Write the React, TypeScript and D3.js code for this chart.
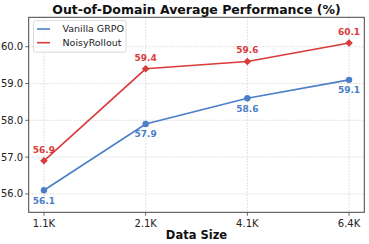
import React from "react";
import * as d3 from "d3";

const categories = ["1.1K", "2.1K", "4.1K", "6.4K"];
const vanilla = [56.1, 57.9, 58.6, 59.1];
const noisy = [56.9, 59.4, 59.6, 60.1];
const yTicks = [56.0, 57.0, 58.0, 59.0, 60.0];

const W = 369, H = 244;
const M = { left: 28.7, right: 364.3, top: 17.3, bottom: 212.3 };
const BLUE = "#4a7ec8";
const RED = "#d93a3a";
const FONT = "DejaVu Sans, sans-serif";

export default function App() {
  const x = d3.scaleLinear().domain([-0.15, 3.15]).range([M.left, M.right]);
  const y = d3.scaleLinear().domain([55.5, 60.8]).range([M.bottom, M.top]);
  const line = d3.line<number>().x((_, i) => x(i)).y((d) => y(d));
  const diamond = (cx: number, cy: number, r: number) =>
    `M${cx},${cy - r}L${cx + r},${cy}L${cx},${cy + r}L${cx - r},${cy}Z`;

  return (
    <svg width={W} height={H} style={{ position: "absolute", left: 0, top: 0, background: "#fff" }} fontFamily={FONT}>
      <rect width={W} height={H} fill="#fff" />
      {/* grid */}
      {yTicks.map((t) => (
        <line key={"gy" + t} x1={M.left} x2={M.right} y1={y(t)} y2={y(t)} stroke="#cfcfcf" strokeWidth={0.8} strokeDasharray="1.5,1.5" />
      ))}
      {categories.map((c, i) => (
        <line key={"gx" + c} x1={x(i)} x2={x(i)} y1={M.top} y2={M.bottom} stroke="#cfcfcf" strokeWidth={0.8} strokeDasharray="1.5,1.5" />
      ))}
      {/* lines */}
      <path d={line(vanilla) || ""} fill="none" stroke={BLUE} strokeWidth={1.6} />
      <path d={line(noisy) || ""} fill="none" stroke={RED} strokeWidth={1.6} />
      {vanilla.map((v, i) => (
        <circle key={"vc" + i} cx={x(i)} cy={y(v)} r={3.2} fill={BLUE} />
      ))}
      {noisy.map((v, i) => (
        <path key={"nd" + i} d={diamond(x(i), y(v), 3.8)} fill={RED} />
      ))}
      {vanilla.map((v, i) => (
        <text key={"vl" + i} x={x(i)} y={y(v) + 13.5} textAnchor="middle" fontSize={9} fontWeight="bold" fill={BLUE}>
          {v.toFixed(1)}
        </text>
      ))}
      {noisy.map((v, i) => (
        <text key={"nl" + i} x={x(i)} y={y(v) - 8} textAnchor="middle" fontSize={9} fontWeight="bold" fill={RED}>
          {v.toFixed(1)}
        </text>
      ))}
      {/* frame */}
      <rect x={M.left} y={M.top} width={M.right - M.left} height={M.bottom - M.top} fill="none" stroke="#444" strokeWidth={1} />
      {/* y ticks */}
      {yTicks.map((t) => (
        <g key={"yt" + t}>
          <line x1={M.left - 3.5} x2={M.left} y1={y(t)} y2={y(t)} stroke="#444" strokeWidth={0.8} />
          <text x={M.left - 5.5} y={y(t)} dy="0.35em" textAnchor="end" fontSize={10} fill="#222">
            {t.toFixed(1)}
          </text>
        </g>
      ))}
      {categories.map((c, i) => (
        <g key={"xt" + c}>
          <line x1={x(i)} x2={x(i)} y1={M.bottom} y2={M.bottom + 3.5} stroke="#444" strokeWidth={0.8} />
          <text x={x(i)} y={M.bottom + 15} textAnchor="middle" fontSize={10} fill="#222">
            {c}
          </text>
        </g>
      ))}
      <text x={(M.left + M.right) / 2} y={238.5} textAnchor="middle" fontSize={11.5} fontWeight="bold" fill="#111">
        Data Size
      </text>
      <text x={(M.left + M.right) / 2} y={14} textAnchor="middle" fontSize={12.5} fontWeight="bold" fill="#111">
        Out-of-Domain Average Performance (%)
      </text>
      {/* legend */}
      <rect x={33.5} y={20.7} width={92.5} height={31.5} rx={2} fill="#fff" fillOpacity={0.85} stroke="#d0d0d0" strokeWidth={0.8} />
      <line x1={37} x2={50} y1={29} y2={29} stroke={BLUE} strokeWidth={1.6} />
      <line x1={37} x2={50} y1={42.7} y2={42.7} stroke={RED} strokeWidth={1.6} />
      <text x={62.5} y={29} dy="0.35em" fontSize={9.5} fill="#222">Vanilla GRPO</text>
      <text x={62.5} y={42.7} dy="0.35em" fontSize={9.5} fill="#222">NoisyRollout</text>
    </svg>
  );
}
